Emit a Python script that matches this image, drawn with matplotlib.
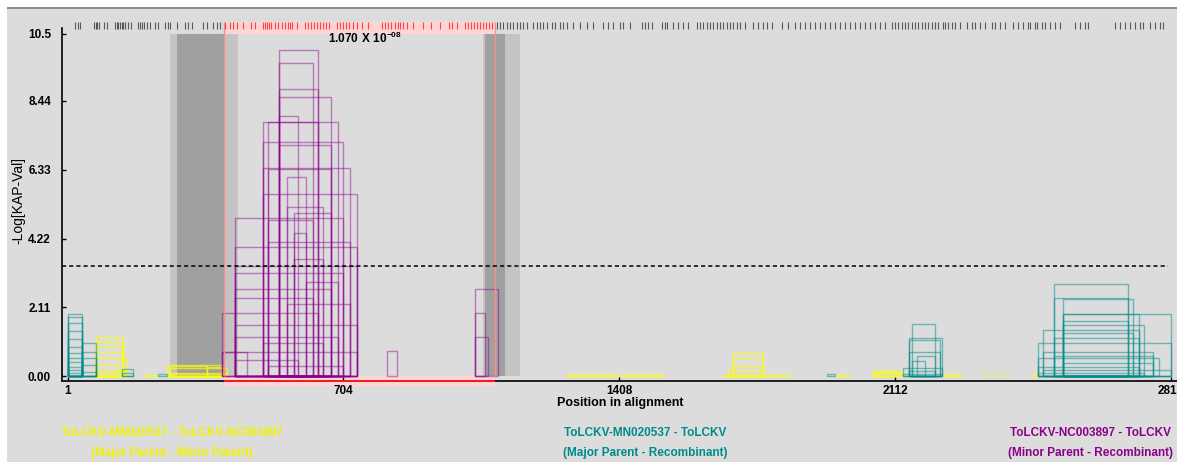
import matplotlib
matplotlib.use('Agg')
import matplotlib.pyplot as plt
import matplotlib.colors as mcolors
from matplotlib.patches import Rectangle
import numpy as np

plt.rcParams['font.family'] = ['Liberation Sans', 'DejaVu Sans']
plt.rcParams['mathtext.fontset'] = 'custom'
plt.rcParams['mathtext.rm'] = 'Liberation Sans'
plt.rcParams['mathtext.bf'] = 'Liberation Sans:bold'

# ---------------- data ----------------
x_ticks = [1, 704, 1408, 2112, 2816]
y_ticks = [0.00, 2.11, 4.22, 6.33, 8.44, 10.5]
y_tick_labels = ['0.00', '2.11', '4.22', '6.33', '8.44', '10.5']
threshold = 3.37
p_value_label = r'$\mathbf{1.070\ X\ 10^{-08}}$'

breakpoints = [399, 1091]
left_ci = [262, 435]
left_core = [279, 399]
right_ci = [1060, 1155]
right_core = [1065, 1116]

sites_black = [19, 27, 32, 67, 72, 75, 80, 93, 101, 121, 126, 129, 134, 139, 141, 146, 154, 162,
               180, 185, 190, 195, 203, 210, 223, 231, 248, 256, 261, 279, 299, 307, 317, 346,
               356, 371, 382, 390,
               1096, 1104, 1111, 1121, 1129, 1137, 1147, 1154, 1162, 1172, 1188, 1198, 1206, 1213,
               1223, 1236, 1244, 1257, 1264, 1274, 1290, 1308, 1325, 1341, 1366, 1379, 1392, 1410,
               1417, 1435, 1466, 1473, 1481, 1491, 1517, 1525, 1530, 1545, 1558, 1571, 1583, 1606,
               1614, 1621, 1632, 1639, 1647, 1657, 1665, 1673, 1683, 1690, 1698, 1708, 1716, 1729,
               1749, 1762, 1775, 1785, 1798, 1823, 1838, 1856, 1869, 1882, 1895, 1907, 1920, 1933,
               1946, 1958, 1971, 1984, 1997, 2009, 2022, 2035, 2048, 2060, 2073, 2086, 2104, 2111,
               2119, 2129, 2137, 2145, 2155, 2163, 2170, 2180, 2188, 2196, 2206, 2214, 2221, 2234,
               2239, 2247, 2257, 2265, 2277, 2295, 2308, 2316, 2328, 2341, 2359, 2367, 2379, 2392,
               2413, 2425, 2438, 2451, 2456, 2469, 2474, 2487, 2494, 2507, 2520, 2533, 2571, 2584,
               2596, 2604, 2673, 2686, 2699, 2711, 2724, 2737, 2744, 2762, 2775, 2788, 2795]
sites_red = [402, 414, 422, 432, 448, 468, 479, 499, 504, 509, 514, 519, 529, 537, 547, 555, 562,
             567, 573, 585, 606, 613, 621, 629, 636, 644, 652, 659, 667, 688, 695, 703, 711, 718,
             728, 739, 751, 767, 802, 810, 818, 825, 836, 843, 848, 856, 866, 881, 907, 927, 950,
             973, 981, 994, 1014, 1022, 1029, 1037, 1045, 1052, 1060, 1068, 1075, 1083]

# purple: Minor Parent - Recombinant
purple_start = [539, 539, 539, 539, 539, 499, 511, 499, 539, 499, 511, 499, 427, 511, 511, 427,
                427, 427, 427, 393, 427, 427, 393, 427, 393, 559, 578, 559, 578, 608, 559, 499,
                511, 578, 427, 816, 1040, 1040, 1040]
purple_end = [638, 627, 638, 672, 589, 689, 638, 704, 672, 721, 672, 738, 704, 627, 721, 738,
              738, 704, 672, 638, 738, 689, 738, 589, 457, 653, 608, 608, 653, 689, 721, 653,
              704, 672, 627, 841, 1098, 1065, 1072]
purple_height = [9.99, 9.62, 8.82, 8.55, 7.99, 7.80, 7.80, 7.17, 7.09, 6.39, 6.35, 5.59, 4.85,
                 4.80, 4.12, 3.96, 3.38, 3.16, 2.67, 1.93, 1.57, 1.21, 0.75, 0.49, 0.75, 5.20,
                 4.40, 6.10, 3.60, 2.90, 2.20, 1.00, 0.30, 5.00, 2.40, 0.77, 2.66, 1.92, 1.19]

# teal: Major Parent - Recombinant
teal_start = [1, 1, 1, 1, 1, 1, 1, 1, 1, 1, 1, 1,
              36, 36, 36, 36, 36, 138, 138, 230, 1937,
              2154, 2146, 2146, 2146, 2167, 2154, 2133, 2146, 2133,
              2518, 2518, 2541, 2541, 2541, 2489, 2476, 2476, 2541, 2541, 2518, 2489, 2541,
              2476, 2489, 2476, 2518, 2541]
teal_end = [36, 36, 36, 36, 36, 36, 36, 36, 36, 36, 36, 36,
            72, 72, 72, 72, 72, 166, 166, 253, 1959,
            2214, 2231, 2226, 2226, 2214, 2188, 2231, 2214, 2231,
            2706, 2706, 2718, 2733, 2815, 2733, 2815, 2784, 2746, 2718, 2733, 2771, 2771,
            2733, 2815, 2746, 2771, 2706]
teal_height = [1.89, 1.82, 1.62, 1.39, 1.13, 0.90, 0.72, 0.54, 0.44, 0.29, 0.18, 0.10,
               1.00, 0.75, 0.54, 0.34, 0.13, 0.21, 0.10, 0.05, 0.05,
               1.59, 1.16, 1.12, 0.75, 0.60, 0.45, 0.25, 0.15, 0.05,
               2.81, 2.39, 2.36, 1.89, 1.89, 1.41, 1.00, 0.54, 1.57, 1.31, 1.16, 0.75, 0.39,
               0.29, 0.18, 0.08, 0.62, 1.70]

# yellow: Major Parent - Minor Parent
yellow_start = [72, 72, 72, 72, 72, 72, 72, 72, 195, 253, 261, 261, 355, 253, 261,
                1275, 1414, 1673, 1699, 1699, 1699, 1686, 1959, 2056, 2056, 2060, 2231, 2464]
yellow_end = [141, 141, 138, 138, 151, 130, 151, 130, 228, 393, 355, 406, 393, 406, 393,
              1405, 1520, 1844, 1775, 1775, 1775, 1775, 1997, 2133, 2133, 2120, 2278, 2476]
yellow_height = [1.19, 1.05, 0.93, 0.75, 0.54, 0.34, 0.18, 0.08, 0.03, 0.34, 0.30, 0.24, 0.28,
                 0.10, 0.05, 0.05, 0.05, 0.03, 0.72, 0.54, 0.31, 0.17, 0.03, 0.16, 0.08, 0.12,
                 0.05, 0.05]
yellow_faint_start = [2333]
yellow_faint_end = [2401]
yellow_faint_height = [0.12]

legend_lines = [
    ('ToLCKV-MN020537 - ToLCKV-NC003897', '(Major Parent - Minor Parent)', '#f2f200', 172),
    ('ToLCKV-MN020537 - ToLCKV', '(Major Parent - Recombinant)', '#008b8b', 645),
    ('ToLCKV-NC003897 - ToLCKV', '(Minor Parent - Recombinant)', '#8b008b', 1091),
]

# ---------------- figure ----------------
W, H = 1177, 462
fig = plt.figure(figsize=(W / 100, H / 100), dpi=100)
fig.patch.set_facecolor('white')
fig.patches.append(Rectangle((7 / W, 0), 1 - 7 / W, 1 - 8 / H, transform=fig.transFigure,
                             facecolor='#dcdcdc', edgecolor='none', zorder=-10))
fig.patches.append(Rectangle((7 / W, 1 - 9 / H), 1 - 7 / W, 1.5 / H, transform=fig.transFigure,
                             facecolor='#8c8c8c', edgecolor='none', zorder=-9))

ax = fig.add_axes([62 / W, (H - 381) / H, (W - 62) / W, (381 - 28) / H])
ax.set_facecolor('none')
ax.set_xlim(-14, 2831)
ax.set_ylim(-0.153, 10.68)

# confidence regions
ax.bar([left_ci[0], right_ci[0]], [10.5, 10.5],
       width=[left_ci[1] - left_ci[0], right_ci[1] - right_ci[0]], align='edge',
       color='#c4c4c4', edgecolor='none', zorder=0.5)
ax.bar([left_core[0], right_core[0]], [10.5, 10.5],
       width=[left_core[1] - left_core[0], right_core[1] - right_core[0]], align='edge',
       color='#a0a0a0', edgecolor='none', zorder=0.6)

# pink recombinant region bands
ax.add_patch(Rectangle((breakpoints[0], 10.5), breakpoints[1] - breakpoints[0], 0.37,
                       facecolor='#ffd4d4', edgecolor='none', clip_on=False, zorder=0.4))
ax.add_patch(Rectangle((breakpoints[0], -0.30), breakpoints[1] - breakpoints[0], 0.30,
                       facecolor='#ffd4d4', edgecolor='none', clip_on=False, zorder=0.4))


def draw_boxes(starts, ends, heights, color, alpha, lw=1.0, z=2):
    ax.bar(starts, heights, width=np.subtract(ends, starts), align='edge',
           facecolor='none', edgecolor=mcolors.to_rgba(color, alpha), linewidth=lw, zorder=z)


draw_boxes(yellow_faint_start, yellow_faint_end, yellow_faint_height, '#f0f060', 0.5)
draw_boxes(yellow_start, yellow_end, yellow_height, '#ffff00', 0.7)
draw_boxes(teal_start, teal_end, teal_height, '#008b8b', 0.5)
draw_boxes(purple_start, purple_end, purple_height, '#8b008b', 0.45)

# breakpoint lines
ax.vlines(breakpoints, 0, 10.87, color='#ff8c8c', lw=1.0, zorder=2.6, clip_on=False)
ax.hlines(-0.153, breakpoints[0], breakpoints[1], color='#ff2020', lw=1.3, zorder=3,
          clip_on=False)

# threshold
ax.hlines(threshold, -14, 2808, color='black', lw=1.1, linestyle=(0, (2.7, 2.0)), zorder=3)

# informative sites
ax.vlines(sites_black, 10.64, 10.85, color='#383838', lw=0.8, alpha=0.8, clip_on=False)
ax.vlines(sites_red, 10.64, 10.85, color='#ff2a2a', lw=0.8, alpha=0.85, clip_on=False, zorder=3)

# axes styling
for s in ['top', 'right']:
    ax.spines[s].set_visible(False)
for s in ['left', 'bottom']:
    ax.spines[s].set_linewidth(1.2)
    ax.spines[s].set_color('black')

ax.set_xticks(x_ticks)
ax.set_xticklabels([str(v) for v in x_ticks], fontsize=8.5, fontweight='bold')
ax.set_yticks(y_ticks)
ax.set_yticklabels(y_tick_labels, fontsize=8.5, fontweight='bold')
ax.tick_params(axis='x', direction='in', length=3, width=1, pad=3)
ax.tick_params(axis='y', direction='in', length=3, width=1, pad=8)

fig.text(620 / W, 1 - 403 / H, 'Position in alignment', ha='center', va='center',
         fontsize=9, fontweight='bold')
fig.text(18 / W, 1 - 201 / H, '-Log[KAP-Val]', ha='center', va='center', rotation=90,
         fontsize=10)
fig.text(328 / W, 1 - 38 / H, p_value_label, ha='left', va='center', fontsize=8.5)

for l1, l2, col, cx in legend_lines:
    fig.text(cx / W, 1 - 433 / H, l1, ha='center', va='center', fontsize=8.5,
             fontweight='bold', color=col)
    fig.text(cx / W, 1 - 453 / H, l2, ha='center', va='center', fontsize=8.5,
             fontweight='bold', color=col)

fig.savefig('out.png', dpi=100, facecolor=fig.get_facecolor())
